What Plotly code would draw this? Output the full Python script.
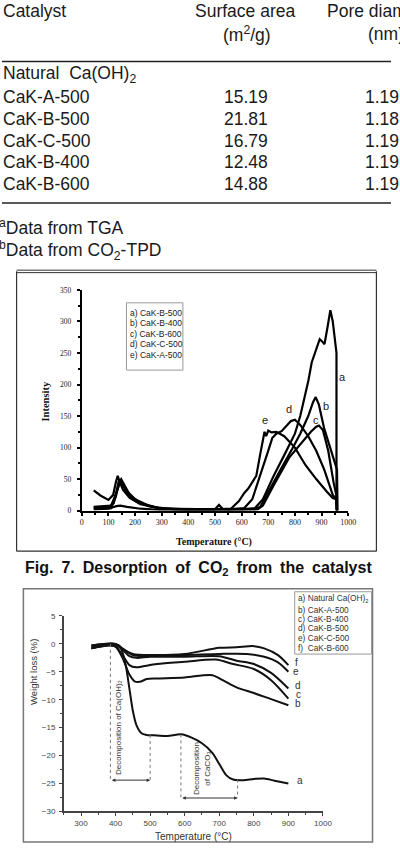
import plotly.graph_objects as go

W, H = 400, 854

# ---------------- table data ----------------
catalysts = ["Natural  Ca(OH)<sub>2</sub>", "CaK-A-500", "CaK-B-500", "CaK-C-500", "CaK-B-400", "CaK-B-600"]
surface_area = ["", "15.19", "21.81", "16.79", "12.48", "14.88"]
pore_diameter = ["", "1.19", "1.18", "1.19", "1.19", "1.19"]

# ---------------- Fig. 7 CO2-TPD data ----------------
tpd_labels = ["a) CaK-B-500", "b) CaK-B-400", "c) CaK-B-600", "d) CaK-C-500", "e) CaK-A-500"]
tpd_a_temp = [45, 100, 120, 132, 140, 150, 170, 200, 250, 300, 400, 500, 515, 530, 600, 650, 680, 720, 760, 800, 820, 832, 850, 863, 880, 893, 903, 911, 922, 933, 942, 950, 956, 956]
tpd_a_int = [5, 5, 12, 35, 48, 44, 28, 16, 7, 3, 2, 2, 9, 2, 2, 4, 18, 55, 88, 122, 150, 172, 205, 235, 255, 272, 268, 264, 290, 318, 300, 270, 250, 0]
tpd_b_temp = [45, 110, 128, 140, 148, 160, 180, 220, 300, 400, 500, 600, 650, 670, 700, 750, 790, 820, 850, 868, 878, 890, 910, 935, 958, 960]
tpd_b_int = [4, 4, 22, 45, 50, 40, 25, 12, 3, 2, 2, 2, 2, 6, 30, 68, 98, 122, 150, 172, 180, 168, 130, 95, 65, 0]
tpd_c_temp = [45, 100, 130, 145, 170, 220, 300, 400, 600, 660, 680, 720, 780, 830, 860, 880, 890, 905, 925, 945, 955, 958]
tpd_c_int = [2, 3, 7, 8, 6, 3, 1, 1, 1, 2, 8, 40, 85, 110, 125, 133, 135, 128, 95, 45, 25, 0]
tpd_d_temp = [45, 110, 130, 145, 152, 165, 200, 250, 300, 400, 550, 610, 640, 670, 700, 715, 730, 750, 770, 785, 800, 820, 850, 880, 910, 942, 955, 958]
tpd_d_int = [6, 8, 28, 46, 44, 33, 18, 8, 3, 2, 2, 4, 18, 55, 95, 115, 122, 126, 135, 142, 144, 136, 118, 95, 65, 25, 18, 0]
tpd_e_temp = [45, 70, 100, 118, 128, 135, 142, 155, 180, 220, 280, 350, 500, 560, 590, 610, 625, 640, 655, 670, 686, 692, 700, 712, 730, 760, 800, 840, 880, 920, 942, 955, 958]
tpd_e_int = [32, 24, 17, 25, 45, 55, 46, 33, 20, 10, 5, 2, 2, 3, 15, 28, 35, 45, 55, 90, 125, 118, 127, 124, 125, 118, 100, 72, 50, 30, 20, 18, 0]
tpd_curve_letters = ["a", "b", "c", "d", "e"]
tpd_letter_pos = [(978, 212), (916, 166), (880, 144), (777, 161), (686, 144)]

# ---------------- TGA data ----------------
tga_labels = ["a) Natural Ca(OH)<sub>2</sub>", "b) CaK-A-500", "c) CaK-B-400", "d) CaK-B-500", "e) CaK-C-500", "f)  CaK-B-600"]
tga_a_temp = [330, 360, 390, 410, 420, 430, 440, 450, 460, 475, 490, 520, 550, 590, 620, 650, 680, 700, 720, 740, 770, 800, 830, 860, 900]
tga_a_loss = [-0.5, -0.2, 0, -0.3, -1.5, -4, -8, -12, -14.5, -16, -16.3, -16.4, -16.5, -16.2, -16.8, -17.8, -19.5, -21.5, -23.5, -24.3, -24.4, -24.2, -24.1, -24.5, -25]
tga_b_temp = [330, 380, 400, 420, 440, 455, 470, 490, 520, 600, 680, 710, 750, 800, 850, 900]
tga_b_loss = [-0.8, -0.3, -0.5, -2.5, -5.5, -6.7, -6.8, -6.3, -6.2, -6.0, -5.6, -6.5, -7.8, -8.8, -9.9, -11]
tga_c_temp = [330, 380, 400, 420, 440, 460, 480, 520, 600, 690, 740, 800, 850, 900]
tga_c_loss = [-0.8, -0.2, -0.5, -2, -3.8, -4.2, -4.0, -3.6, -3.2, -2.8, -3.6, -4.5, -6.5, -9.8]
tga_d_temp = [330, 400, 420, 440, 460, 500, 600, 700, 750, 800, 850, 900]
tga_d_loss = [-0.3, 0, -1, -2.2, -2.5, -2.3, -2.3, -2.2, -3.0, -3.6, -5.2, -8]
tga_e_temp = [330, 400, 420, 450, 480, 550, 600, 700, 780, 830, 870, 900]
tga_e_loss = [-0.3, 0, -0.8, -2, -2.2, -2, -2, -1.8, -1.8, -2.3, -3.3, -5]
tga_f_temp = [330, 400, 420, 450, 500, 600, 700, 750, 800, 830, 870, 900]
tga_f_loss = [-0.8, -0.2, -1, -1.8, -2, -1.8, -0.7, -0.6, -0.4, -0.8, -2, -3.8]
tga_curve_letters = ["f", "e", "d", "c", "b", "a"]
tga_letter_pos = [(923, -3.4), (923, -4.9), (929, -7.5), (929, -9.1), (929, -10.7), (935, -24.4)]


def px(x):
    return x / W


def py(y):
    return 1 - y / H


fig = go.Figure()

tpd_series = [(tpd_a_temp, tpd_a_int), (tpd_b_temp, tpd_b_int), (tpd_c_temp, tpd_c_int),
              (tpd_d_temp, tpd_d_int), (tpd_e_temp, tpd_e_int)]
for (t, v), name in zip(tpd_series, tpd_labels):
    fig.add_trace(go.Scatter(x=t, y=v, mode="lines", name=name, xaxis="x", yaxis="y",
                             line=dict(color="black", width=2.2), showlegend=False))

tga_series = [(tga_a_temp, tga_a_loss), (tga_b_temp, tga_b_loss), (tga_c_temp, tga_c_loss),
              (tga_d_temp, tga_d_loss), (tga_e_temp, tga_e_loss), (tga_f_temp, tga_f_loss)]
for (t, v), name in zip(tga_series, tga_labels):
    fig.add_trace(go.Scatter(x=t, y=v, mode="lines", name=name, xaxis="x2", yaxis="y2",
                             line=dict(color="#111", width=2, shape="spline", smoothing=0.8),
                             showlegend=False))

serif = "Liberation Serif"
sans = "Liberation Sans"

ann = []
shapes = []


def txt(x, y, s, size=18, xanchor="left", family=sans, color="#1a1a1a", **kw):
    ann.append(dict(x=px(x), y=py(y), xref="paper", yref="paper", text=s, showarrow=False,
                    xanchor=xanchor, yanchor="middle", font=dict(family=family, size=size, color=color),
                    borderpad=0, **kw))


# ---------- table ----------
txt(0, 7, "Catalyst", size=17.5)
txt(250, 7, "Surface area", size=17.5, xanchor="center")
txt(252, 30, "(m<sup>2</sup>/g)", size=17.5, xanchor="center")
txt(333, 7, "Pore diameter", size=17.5)
txt(375, 30, "(nm)", size=17.5)
shapes.append(dict(type="line", xref="paper", yref="paper", x0=0, x1=1, y0=py(58), y1=py(58),
                   line=dict(color="#222", width=1.5)))
row_y = [71, 94, 116, 138, 160, 182]
for yy, c, s, p in zip(row_y, catalysts, surface_area, pore_diameter):
    txt(0, yy, c, size=17.5)
    if s:
        txt(251, yy, s, size=17.5, xanchor="center")
    if p:
        txt(372, yy, p, size=17.5)
shapes.append(dict(type="line", xref="paper", yref="paper", x0=0, x1=1, y0=py(201), y1=py(201),
                   line=dict(color="#222", width=1.5)))
txt(-4, 225, "<sup>a</sup>Data from TGA", size=17.5)
txt(-4, 249, "<sup>b</sup>Data from CO<sub>2</sub>-TPD", size=17.5)

# ---------- Fig 7 frame ----------
for yy in (269, 271.5):
    shapes.append(dict(type="line", xref="paper", yref="paper", x0=px(15), x1=px(385), y0=py(yy), y1=py(yy),
                       line=dict(color="#333", width=1)))
shapes.append(dict(type="line", xref="paper", yref="paper", x0=px(385), x1=px(385), y0=py(270), y1=py(553),
                   line=dict(color="#333", width=1.2)))
shapes.append(dict(type="line", xref="paper", yref="paper", x0=px(15), x1=px(385), y0=py(553), y1=py(553),
                   line=dict(color="#333", width=1.2)))
shapes.append(dict(type="line", xref="paper", yref="paper", x0=px(15), x1=px(15), y0=py(270), y1=py(553),
                   line=dict(color="#333", width=1.2)))

# legend box fig 7
shapes.append(dict(type="rect", xref="paper", yref="paper", x0=px(128), x1=px(186), y0=py(302), y1=py(370),
                   line=dict(color="#999", width=1), fillcolor="white"))
for i, lab in enumerate(tpd_labels):
    txt(131, 312 + i * 10.7, lab, size=8.5, color="#222")

for letter, (lx, ly) in zip(tpd_curve_letters, tpd_letter_pos):
    ann.append(dict(x=lx, y=ly, xref="x", yref="y", text=letter, showarrow=False,
                    font=dict(family=sans, size=11, color="#222")))

txt(45, 402, "<b>Intensity</b>", size=10.5, xanchor="center", family=serif, color="#111", textangle=-90)
txt(218, 544, "<b>Temperature (°C)</b>", size=10, xanchor="center", family=serif, color="#111")

txt(202, 571, "<b>Fig.\u20027.\u2002Desorption\u2002of\u2002CO<sub>2</sub>\u2002from\u2002the\u2002catalyst</b>",
    size=16, xanchor="center", color="#111")

# ---------- TGA frame ----------
shapes.append(dict(type="rect", xref="paper", yref="paper", x0=px(22), x1=px(381), y0=py(847), y1=py(591),
                   line=dict(color="#777", width=1.5)))
shapes.append(dict(type="rect", xref="paper", yref="paper", x0=px(301), x1=px(380), y0=py(657), y1=py(594),
                   line=dict(color="#999", width=1), fillcolor="white"))
tga_leg_y = [601, 612, 621.5, 631, 640.5, 650.5]
for lab, yy in zip(tga_labels, tga_leg_y):
    txt(303, yy, lab, size=8.3, color="#333")

for letter, (lx, ly) in zip(tga_curve_letters, tga_letter_pos):
    ann.append(dict(x=lx, y=ly, xref="x2", yref="y2", text=letter, showarrow=False,
                    font=dict(family=sans, size=10, color="#333")))

# dotted guides
dots = [(385, 0, 385, -24.4), (500, -16.3, 500, -24.4), (589, -16.2, 589, -27.6), (753, -24.3, 753, -27.6)]
for x0, y0, x1, y1 in dots:
    shapes.append(dict(type="line", xref="x2", yref="y2", x0=x0, x1=x1, y0=y0, y1=y1,
                       line=dict(color="#777", width=1, dash="dot")))
for (xa, xb, yv) in [(385, 500, -24.4), (589, 753, -27.6)]:
    ann.append(dict(x=xb, y=yv, ax=xa, ay=yv, xref="x2", yref="y2", axref="x2", ayref="y2",
                    text="", showarrow=True, arrowhead=2, arrowside="end+start",
                    arrowsize=0.7, arrowwidth=1, arrowcolor="#333"))
ann.append(dict(x=408, y=-15, xref="x2", yref="y2", text="Decomposition of Ca(OH)<sub>2</sub>",
                showarrow=False, textangle=-90, font=dict(family=sans, size=8, color="#333")))
ann.append(dict(x=652, y=-22.3, xref="x2", yref="y2", text="Decomposition<br>of CaCO<sub>3</sub>",
                showarrow=False, textangle=-90, font=dict(family=sans, size=8, color="#333")))

txt(33, 675, "Weight loss (%)", size=9.5, xanchor="center", color="#333", textangle=-90)
txt(197, 841, "Temperature (°C)", size=10, xanchor="center", color="#333")

fig.update_layout(
    width=W, height=H, margin=dict(l=0, r=0, t=0, b=0),
    paper_bgcolor="white", plot_bgcolor="white", showlegend=False,
    xaxis=dict(domain=[px(82), px(356)], range=[0, 1000], anchor="y",
               showgrid=False, zeroline=False, showline=True, linecolor="black", linewidth=1.8,
               ticks="outside", ticklen=3, tickwidth=1.5, tickcolor="black", dtick=100,
               tickfont=dict(family=serif, size=8, color="#222"),
               minor=dict(ticks="outside", ticklen=2, dtick=50, tickcolor="black")),
    yaxis=dict(domain=[py(512), py(289)], range=[0, 350], anchor="x",
               showgrid=False, zeroline=False, showline=True, linecolor="black", linewidth=1.8,
               ticks="outside", ticklen=3, tickwidth=1.5, tickcolor="black", dtick=50,
               tickfont=dict(family=serif, size=7.5, color="#222"), ticklabelstandoff=4,
               minor=dict(ticks="outside", ticklen=2, dtick=25, tickcolor="black")),
    xaxis2=dict(domain=[px(63.5), px(330)], range=[250, 1000], anchor="y2",
                showgrid=False, zeroline=False, showline=True, linecolor="#444", linewidth=1.5,
                ticks="outside", ticklen=3, tickwidth=1, tickcolor="#444",
                tickvals=[300, 400, 500, 600, 700, 800, 900, 1000],
                tickfont=dict(family=sans, size=8, color="#444"),
                minor=dict(ticks="outside", ticklen=2, dtick=50, tickcolor="#444")),
    yaxis2=dict(domain=[py(816), py(618.5)], range=[-30, 5], anchor="x2",
                showgrid=False, zeroline=False, showline=True, linecolor="#444", linewidth=1.5,
                ticks="outside", ticklen=3, tickwidth=1, tickcolor="#444", dtick=5,
                tickfont=dict(family=sans, size=8, color="#444"), ticklabelstandoff=2,
                minor=dict(ticks="outside", ticklen=2, dtick=2.5, tickcolor="#444")),
    annotations=ann, shapes=shapes,
)

fig.write_html("out.html")
